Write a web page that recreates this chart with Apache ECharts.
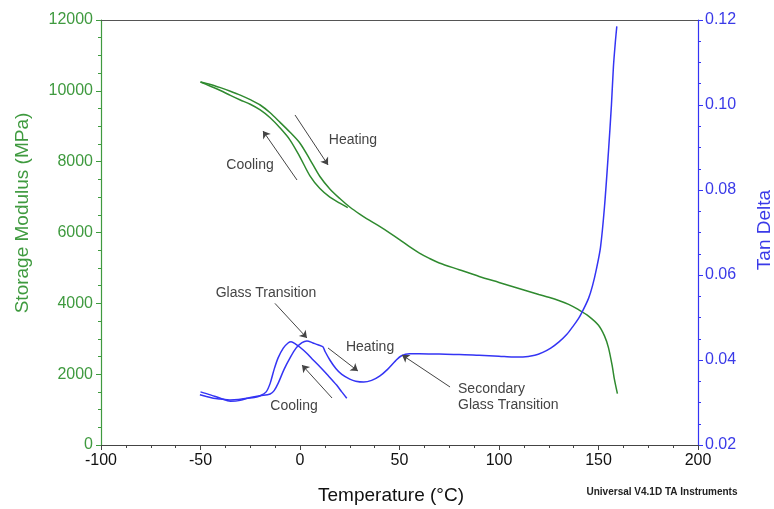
<!DOCTYPE html>
<html>
<head>
<meta charset="utf-8">
<script src="https://cdn.jsdelivr.net/npm/echarts@6/dist/echarts.min.js"></script>
<style>html,body{margin:0;padding:0;background:#fff}#c{width:774px;height:509px}</style>
</head>
<body>
<div id="c"></div>
<script>
// Storage modulus (MPa) – heating run
const modHeatX = [-50,-45,-40,-35,-30,-25,-20,-15,-10,-5,0,5,10,15,20,25,30,35,40,45,50,55,60,65,70,80,90,100,110,120,125,130,135,140,145,150,153,155,157,158,159.5];
const modHeatY = [10250,10180,10090,9990,9880,9750,9600,9380,9110,8830,8520,8060,7580,7230,6960,6720,6520,6340,6170,5990,5800,5600,5420,5270,5140,4950,4760,4590,4420,4250,4170,4080,3970,3820,3640,3380,3080,2750,2200,1850,1450];
// Storage modulus (MPa) – cooling run
const modCoolX = [24,20,15,10,5,0,-5,-10,-15,-20,-25,-30,-35,-40,-45,-50];
const modCoolY = [6700,6830,7000,7240,7600,8130,8610,8950,9240,9460,9620,9740,9870,10010,10130,10250];
// Tan delta – heating run
const tanHeatX = [-50,-45,-40,-35,-30,-25,-20,-15,-13,-11,-8,-5,-2,1,3.5,6.5,9,11.5,12.6,15,18,21,25,28,32,36,40,44,48,51,55,60,70,80,90,100,107,112,118,122,126,130,134,137,140,142,145,147,149,151,153,155,156.5,157.5,158.5,159.2];
const tanHeatY = [0.0325,0.0318,0.0310,0.0303,0.0305,0.0312,0.0316,0.0320,0.0328,0.0345,0.0378,0.0405,0.0428,0.0441,0.0445,0.0440,0.0436,0.0431,0.0420,0.0400,0.0380,0.0366,0.0355,0.0350,0.0348,0.0352,0.0362,0.0378,0.0398,0.0410,0.0415,0.0415,0.0414,0.0413,0.0411,0.0409,0.0407,0.0407,0.0411,0.0418,0.0428,0.0442,0.0460,0.0478,0.0498,0.0515,0.0545,0.0575,0.0615,0.0665,0.0760,0.0890,0.1000,0.1090,0.1150,0.1185];
// Tan delta – cooling run
const tanCoolX = [23.5,21,18.4,14,10,6,3.4,0,-2,-4.5,-6,-8.4,-11,-13,-15,-17,-20,-23,-26.8,-31,-35.2,-40,-43.6,-47,-50.3];
const tanCoolY = [0.0310,0.0325,0.0341,0.0364,0.0384,0.0403,0.0416,0.0430,0.0437,0.0443,0.0440,0.0428,0.0405,0.0378,0.0345,0.0325,0.0316,0.0312,0.0310,0.0307,0.0306,0.0308,0.0310,0.0314,0.0318];
// Axis ticks
const xTicks = {min:-100, max:200, step:50};
const yLeftTicks = {min:0, max:12000, step:2000};
const yRightTicks = {min:0.02, max:0.12, step:0.02};
// Annotations (data coordinates on the storage-modulus axis)
const arrowFrom = [[-2.5,9318],[-1.5,7482],[-12.6,3999],[14.1,2739],[16.1,1327],[75.4,1638]];
const arrowTo   = [[14.1,7906],[-18.6,8866],[3.5,3021],[29.1,2089],[1.0,2259],[51.3,2541]];
const noteText  = ['Heating','Cooling','Glass Transition','Heating','Cooling','Secondary','Glass Transition'];
const notePos   = [[26.6,8612],[-25.1,7906],[-17.1,4292],[35.2,2767],[-3.0,1101],[79.4,1581],[79.4,1129]];
const noteAlign = ['center','center','center','center','center','left','left'];

const zip = (xs, ys) => xs.map((x, i) => [x, ys[i]]);
const GREEN = '#2f8a2f', GREEN_T = '#3f9a3f', BLUE = '#3434f4', BLUE_T = '#3a3ae8';
const FONT = 'Liberation Sans, Arial, sans-serif';

const chart = echarts.init(document.getElementById('c'));
const option = {
  animation: false,
  backgroundColor: '#fff',
  grid: {left: 101, right: 76, top: 20, bottom: 64, containLabel: false},
  xAxis: [{
    type: 'value', min: xTicks.min, max: xTicks.max, interval: xTicks.step,
    axisLine: {show: true, onZero: false, lineStyle: {color: '#444', width: 1.2}},
    axisTick: {show: true, length: 5, lineStyle: {color: '#444'}},
    minorTick: {show: true, splitNumber: 4, length: 3, lineStyle: {color: '#444'}},
    splitLine: {show: false},
    axisLabel: {color: '#111', fontSize: 16, fontFamily: FONT, margin: 8}
  }, {
    type: 'value', position: 'top', min: xTicks.min, max: xTicks.max,
    axisLine: {show: true, onZero: false, lineStyle: {color: '#555', width: 1.2}},
    axisTick: {show: false}, axisLabel: {show: false}, splitLine: {show: false}
  }],
  yAxis: [{
    type: 'value', min: yLeftTicks.min, max: yLeftTicks.max, interval: yLeftTicks.step, position: 'left',
    axisLine: {show: true, onZero: false, lineStyle: {color: GREEN_T, width: 1.2}},
    axisTick: {show: true, length: 5, lineStyle: {color: GREEN_T}},
    minorTick: {show: true, splitNumber: 4, length: 3, lineStyle: {color: GREEN_T}},
    splitLine: {show: false},
    axisLabel: {color: GREEN_T, fontSize: 16, fontFamily: FONT, margin: 8, formatter: v => String(v)}
  }, {
    type: 'value', min: yRightTicks.min, max: yRightTicks.max, interval: yRightTicks.step, position: 'right',
    axisLine: {show: true, onZero: false, lineStyle: {color: BLUE, width: 1.2}},
    axisTick: {show: true, length: 5, lineStyle: {color: BLUE}},
    minorTick: {show: true, splitNumber: 4, length: 3, lineStyle: {color: BLUE}},
    splitLine: {show: false},
    axisLabel: {color: BLUE_T, fontSize: 16, fontFamily: FONT, margin: 7, formatter: v => v.toFixed(2)}
  }],
  series: [
    {type: 'line', name: 'Storage Modulus heating', yAxisIndex: 0, data: zip(modHeatX, modHeatY),
     showSymbol: false, smooth: 0.3, lineStyle: {color: GREEN, width: 1.5}, z: 3,
     markLine: {
       silent: true, symbol: ['none', 'arrow'], symbolSize: 7, precision: 4,
       label: {show: false},
       lineStyle: {color: '#444', width: 1, type: 'solid'},
       data: arrowFrom.map((f, i) => [{coord: f, symbol: 'none'}, {coord: arrowTo[i], symbol: 'arrow', symbolSize: 7}])
     }},
    {type: 'line', name: 'Storage Modulus cooling', yAxisIndex: 0, data: zip(modCoolX, modCoolY),
     showSymbol: false, smooth: 0.3, lineStyle: {color: GREEN, width: 1.5}, z: 3},
    {type: 'line', name: 'Tan Delta heating', yAxisIndex: 1, data: zip(tanHeatX, tanHeatY),
     showSymbol: false, smooth: 0.3, lineStyle: {color: BLUE, width: 1.5}, z: 4},
    {type: 'line', name: 'Tan Delta cooling', yAxisIndex: 1, data: zip(tanCoolX, tanCoolY),
     showSymbol: false, smooth: 0.3, lineStyle: {color: BLUE, width: 1.5}, z: 4}
  ]
};
chart.setOption(option);

const graphics = [
  {type: 'text', x: 23, y: 213, rotation: Math.PI / 2,
   style: {text: 'Storage Modulus (MPa)', font: '19px ' + FONT, fill: GREEN_T, align: 'center', verticalAlign: 'middle'}},
  {type: 'text', x: 765, y: 230, rotation: Math.PI / 2,
   style: {text: 'Tan Delta', font: '19px ' + FONT, fill: BLUE_T, align: 'center', verticalAlign: 'middle'}},
  {type: 'text', x: 391, y: 496,
   style: {text: 'Temperature (°C)', font: '19px ' + FONT, fill: '#111', align: 'center', verticalAlign: 'middle'}},
  {type: 'text', x: 662, y: 492,
   style: {text: 'Universal V4.1D TA Instruments', font: 'bold 10px ' + FONT, fill: '#222', align: 'center', verticalAlign: 'middle'}}
];
notePos.forEach((p, i) => {
  const px = chart.convertToPixel({gridIndex: 0}, p);
  graphics.push({type: 'text', x: px[0], y: px[1],
    style: {text: noteText[i], font: '14px ' + FONT, fill: '#444', align: noteAlign[i], verticalAlign: 'middle'}});
});
chart.setOption({graphic: graphics});
</script>
</body>
</html>
